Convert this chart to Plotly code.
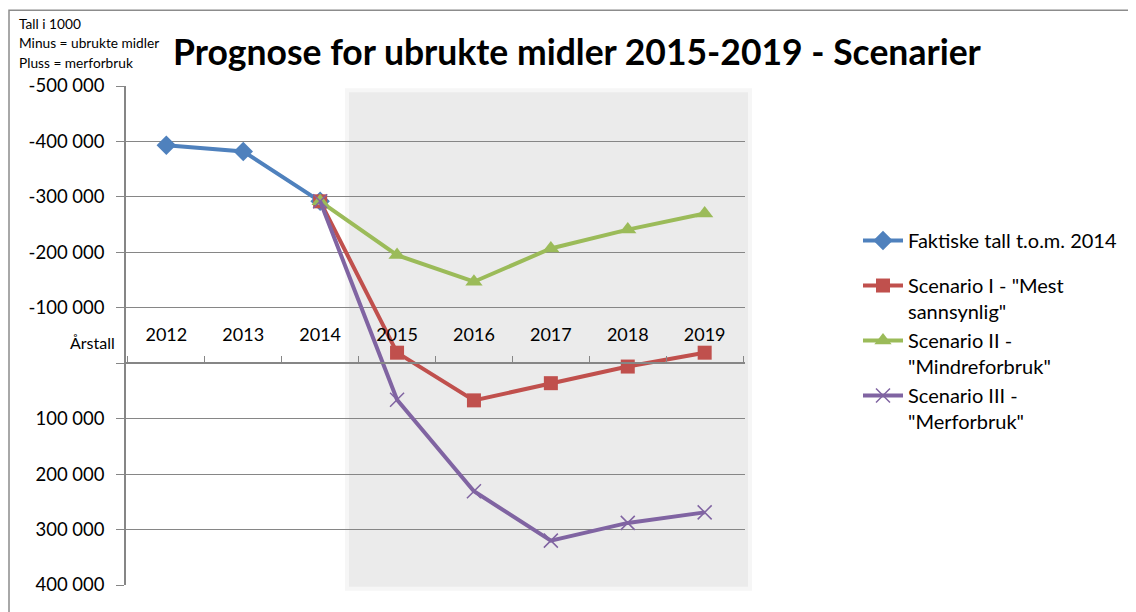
import plotly.graph_objects as go

years = ["2012", "2013", "2014", "2015", "2016", "2017", "2018", "2019"]

faktiske = [-393000, -382000, -292000, None, None, None, None, None]
scenario_1 = [None, None, -292000, -19000, 67000, 36000, 6000, -19000]
scenario_2 = [None, None, -292000, -195000, -147000, -207000, -241000, -270000]
scenario_3 = [None, None, -292000, 66000, 231000, 320000, 288000, 269000]

y_ticks = [-500000, -400000, -300000, -200000, -100000, 0, 100000, 200000, 300000, 400000]
y_ticktext = ["-500 000", "-400 000", "-300 000", "-200 000", "-100 000", "",
              "100 000", "200 000", "300 000", "400 000"]

FONT = "Lato"
OFF = 8  # page body margin
W, H = 1136 - OFF, 612 - OFF
# plot area in screen pixels
L, R, T, B = 126, 745, 85.8, 585.3


def px(x):
    return (x - L) / (R - L)


def py(y):
    return (B - y) / (B - T)


fig = go.Figure()

series = [
    ("Faktiske tall t.o.m. 2014", faktiske, "#4F81BD", dict(symbol="diamond", size=15), "legend"),
    ('Scenario I - "Mest<br>sannsynlig"', scenario_1, "#C0504D", dict(symbol="square", size=14), "legend2"),
    ('Scenario II -<br>"Mindreforbruk"', scenario_2, "#9BBB59", dict(symbol="triangle-up", size=15), "legend2"),
    ('Scenario III -<br>"Merforbruk"', scenario_3, "#8064A2",
     dict(symbol="x-thin-open", size=14, line=dict(width=1.5, color="#8064A2")), "legend2"),
]
for name, values, color, marker, leg in series:
    fig.add_trace(go.Scatter(
        x=years, y=values, name=name, mode="lines+markers", legend=leg, showlegend=True,
        line=dict(color=color, width=4), marker=dict(color=color, **marker),
        connectgaps=False,
    ))

# shaded forecast area (with a soft edge)
fig.add_shape(type="rect", xref="paper", yref="paper", layer="below",
              x0=px(345), x1=px(752), y0=py(591), y1=py(88),
              fillcolor="#F6F6F6", line_width=0)
fig.add_shape(type="rect", xref="paper", yref="paper", layer="below",
              x0=px(349), x1=px(748), y0=py(587), y1=py(92),
              fillcolor="#EBEBEB", line_width=0)
# outer chart border
fig.add_shape(type="rect", xref="paper", yref="paper", layer="below",
              x0=px(9), x1=px(1150), y0=py(630), y1=py(10),
              line=dict(color="#8C8C8C", width=1.5), fillcolor="rgba(0,0,0,0)")

notes = ["Tall i 1000", "Minus = ubrukte midler", "Pluss = merforbruk"]
for i, txt in enumerate(notes):
    fig.add_annotation(text=txt, xref="paper", yref="paper", x=px(17), y=py(23 + 19.5 * i),
                       xanchor="left", yanchor="middle", showarrow=False,
                       font=dict(family=FONT, size=13.7, color="black"))

fig.add_annotation(text="Årstall", xref="paper", yref="paper", x=px(117), y=py(343),
                   xanchor="right", yanchor="middle", showarrow=False,
                   font=dict(family=FONT, size=16, color="black"))

legend_style = dict(xanchor="left", yanchor="top",
                    font=dict(family=FONT, size=20, color="black"),
                    itemwidth=40, valign="top", tracegroupgap=0,
                    bgcolor="rgba(0,0,0,0)")

fig.update_layout(
    width=W, height=H,
    margin=dict(l=L - OFF, r=W - (R - OFF), t=T - OFF, b=H - (B - OFF)),
    plot_bgcolor="rgba(0,0,0,0)",
    paper_bgcolor="white",
    showlegend=True,
    font=dict(family=FONT, size=18, color="black"),
    title=dict(text="<b>Prognose for ubrukte midler 2015-2019 - Scenarier</b>",
               x=(577 - OFF) / W, xanchor="center", y=1 - (53 - OFF) / H, yanchor="middle",
               font=dict(family=FONT, size=35.5, color="black")),
    legend=dict(x=px(858), y=py(221), **legend_style),
    legend2=dict(x=px(858), y=py(266), **legend_style),
)

fig.update_xaxes(
    type="category", anchor="free", position=py(363.3), side="top",
    showline=True, linecolor="#868686", linewidth=1.5,
    ticks="outside", ticklen=6, tickcolor="#868686", tickson="boundaries",
    showgrid=False, ticklabelstandoff=14,
    tickfont=dict(family=FONT, size=18),
)
fig.update_yaxes(
    range=[400000, -500000], tickvals=y_ticks, ticktext=y_ticktext,
    showline=True, linecolor="#868686", linewidth=1.5,
    ticks="outside", ticklen=8, tickcolor="#868686",
    showgrid=True, gridcolor="#868686", gridwidth=1.3, zeroline=False,
    ticklabelstandoff=8,
    tickfont=dict(family=FONT, size=18.5),
)

fig.write_html("out.html")
